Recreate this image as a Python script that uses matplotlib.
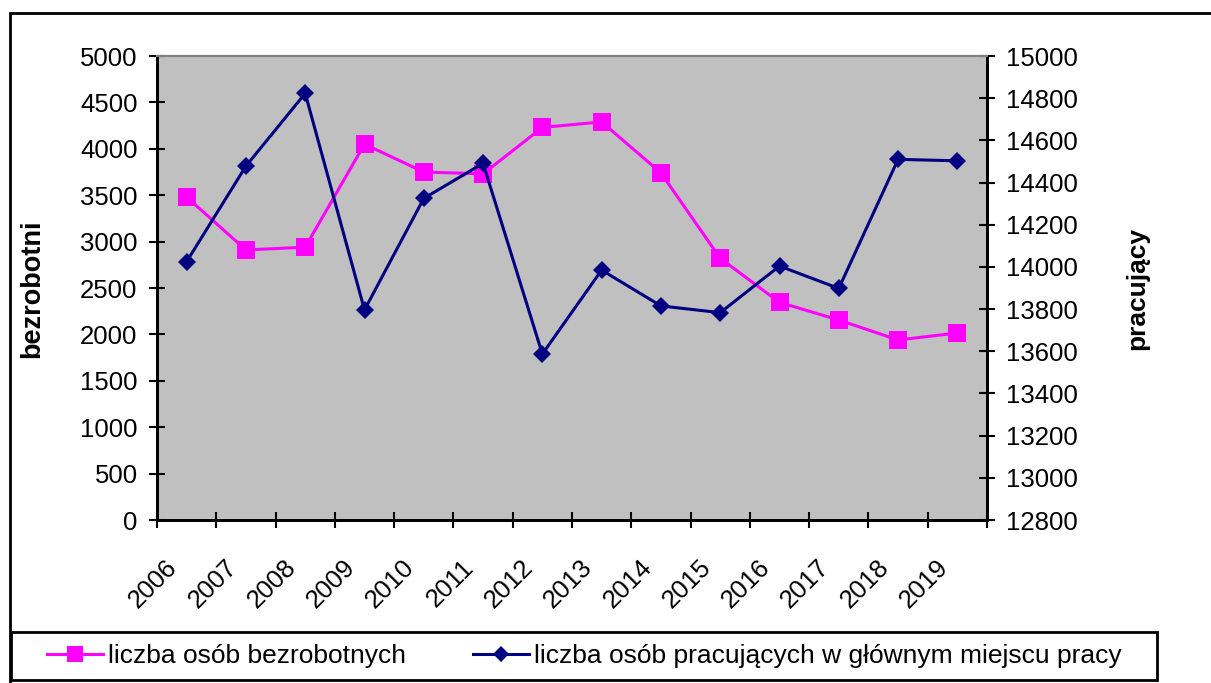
import matplotlib

matplotlib.use("Agg")
import matplotlib.pyplot as plt
from matplotlib.patches import Rectangle
from matplotlib.lines import Line2D
from matplotlib.transforms import ScaledTranslation

plt.rcParams["font.family"] = ["Liberation Sans", "DejaVu Sans"]

years = ["2006", "2007", "2008", "2009", "2010", "2011", "2012",
         "2013", "2014", "2015", "2016", "2017", "2018", "2019"]
# liczba osób bezrobotnych (left axis)
bezrobotni = [3480, 2910, 2940, 4050, 3750, 3730, 4230,
              4290, 3740, 2820, 2345, 2155, 1940, 2015]
# liczba osób pracujących w głównym miejscu pracy (right axis)
pracujacy = [14025, 14478, 14823, 13796, 14325, 14491, 13587,
             13985, 13815, 13783, 14004, 13898, 14510, 14503]

PINK, NAVY = "#FF00FF", "#000080"
FS = 18.5

W, H = 1211, 683
fig = plt.figure(figsize=(W / 100, H / 100), dpi=100)

# plot area in pixel coordinates of the reference
x0, x1, y0, y1 = 157, 987, 56, 520
ax = fig.add_axes([x0 / W, 1 - y1 / H, (x1 - x0) / W, (y1 - y0) / H])
ax.set_facecolor("#C0C0C0")
ax2 = ax.twinx()

pos = list(range(len(years)))
ax.plot(pos, bezrobotni, color=PINK, lw=2.2, marker="s", ms=13.5,
        markeredgewidth=0, zorder=3)
ax2.plot(pos, pracujacy, color=NAVY, lw=2.2, marker="D", ms=9,
         markeredgewidth=0, zorder=3)

ax.set_xlim(-0.5, len(years) - 0.5)
ax.set_ylim(0, 5000)
ax.set_yticks(range(0, 5001, 500))
ax2.set_ylim(12800, 15000)
ax2.set_yticks(range(12800, 15001, 200))

# tick marks at category boundaries, labels at category centres
ax.set_xticks([p - 0.5 for p in pos] + [len(years) - 0.5])
ax.set_xticklabels([])
ax.set_xticks(pos, minor=True)
ax.set_xticklabels(years, minor=True, rotation=45, ha="right", va="center",
                   rotation_mode="anchor")
ax.tick_params(axis="x", which="minor", length=0, pad=31.5, labelsize=FS)
ax.tick_params(axis="x", which="major", direction="inout", length=12, width=1.5)
for lab in ax.get_xticklabels(minor=True):
    lab.set_transform(lab.get_transform()
                      + ScaledTranslation(-0.13, 0, fig.dpi_scale_trans))
ax.tick_params(axis="y", direction="inout", length=12, width=1.5, labelsize=FS,
               pad=8)
ax2.tick_params(axis="y", direction="inout", length=12, width=1.5, labelsize=FS,
                pad=8)

for a in (ax, ax2):
    a.spines["top"].set_color("#808080")
    a.spines["top"].set_linewidth(1.5)
    for s in ("left", "right", "bottom"):
        a.spines[s].set_linewidth(2)

fig.text(32 / W, 1 - 289 / H, "bezrobotni", rotation=90, fontsize=19.5,
         fontweight="bold", ha="center", va="center")
fig.text(1137 / W, 1 - 288 / H, "pracujący", rotation=90, fontsize=19,
         fontweight="bold", ha="center", va="center")

# outer chart frame (runs off the right and bottom edges)
fig.add_artist(Rectangle((10 / W, -0.05), 1.1, 1 - 13 / H + 0.05,
                         transform=fig.transFigure, fill=False,
                         edgecolor="black", lw=2, clip_on=False))

# legend box
lx0, lx1, ly0, ly1 = 11, 1157, 632, 680
fig.add_artist(Rectangle((lx0 / W, 1 - ly1 / H), (lx1 - lx0) / W,
                         (ly1 - ly0) / H, transform=fig.transFigure,
                         facecolor="white", edgecolor="black", lw=2))

handles = [
    Line2D([], [], color=PINK, lw=2.2, marker="s", ms=12,
           markeredgewidth=0),
    Line2D([], [], color=NAVY, lw=2.2, marker="D", ms=8,
           markeredgewidth=0),
]
labels = ["liczba osób bezrobotnych",
          "liczba osób pracujących w głównym miejscu pracy"]
leg = fig.legend(handles, labels, ncol=2, loc="center left",
                 bbox_to_anchor=(47 / W, 1 - 656 / H),
                 fontsize=19, frameon=False, borderaxespad=0, borderpad=0,
                 handlelength=2.12, handletextpad=0.19, columnspacing=2.55)

fig.savefig("out.png", dpi=100)
